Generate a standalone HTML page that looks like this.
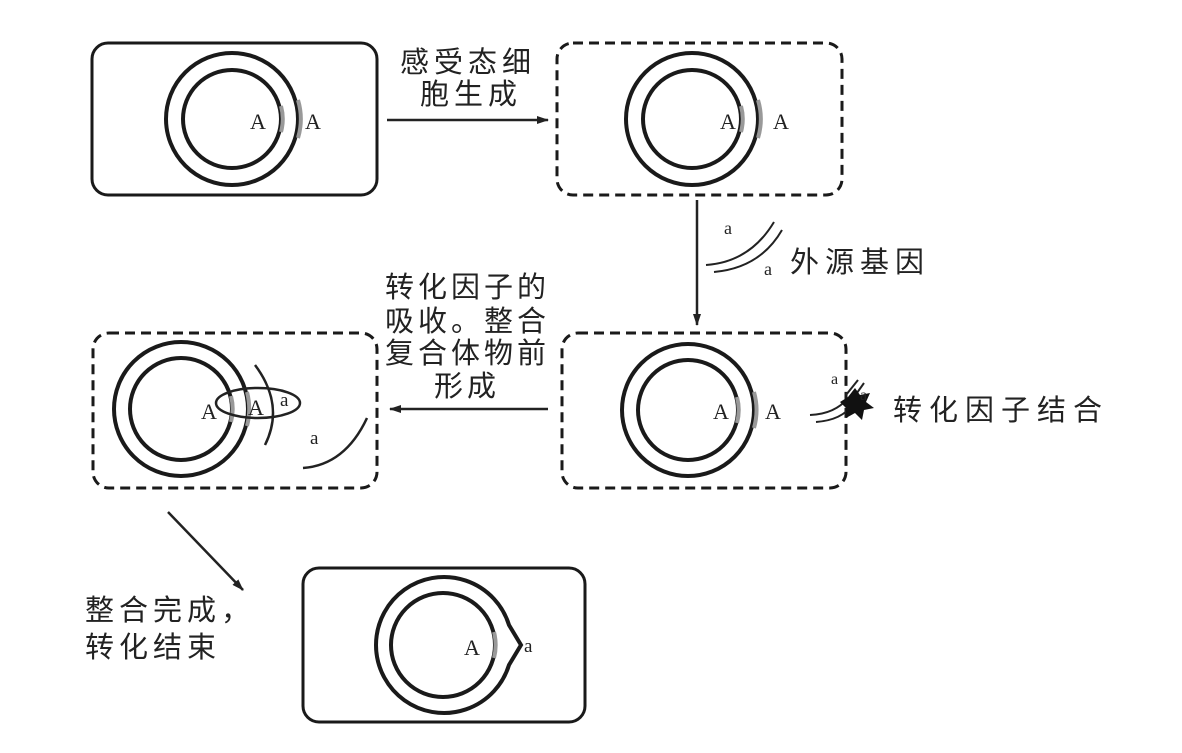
<!DOCTYPE html>
<html><head><meta charset="utf-8"><style>
html,body{margin:0;padding:0;background:#fff;}
svg{display:block;}
text{font-family:"Liberation Sans","Noto Sans CJK SC",sans-serif;fill:#222;}
.s{font-family:"Liberation Serif",serif;}
</style></head><body>
<svg width="1182" height="753" viewBox="0 0 1182 753">
<defs><marker id="ar" markerWidth="12" markerHeight="8" refX="11" refY="4" orient="auto" markerUnits="userSpaceOnUse"><path d="M0,0 L12,4 L0,8 Z" fill="#222"/></marker></defs>
<g fill="none" stroke="#1a1a1a" stroke-width="3">
<rect x="92" y="43" width="285" height="152" rx="16"/>
<rect x="557" y="43" width="285" height="152" rx="16" stroke-dasharray="10,6"/>
<rect x="562" y="333" width="284" height="155" rx="16" stroke-dasharray="10,6"/>
<rect x="93" y="333" width="284" height="155" rx="16" stroke-dasharray="10,6"/>
<rect x="303" y="568" width="282" height="154" rx="16"/>
<circle cx="232" cy="119" r="66" stroke-width="4"/><circle cx="232" cy="119" r="49" stroke-width="4"/>
<circle cx="692" cy="119" r="66" stroke-width="4"/><circle cx="692" cy="119" r="49" stroke-width="4"/>
<circle cx="688" cy="410" r="66" stroke-width="4"/><circle cx="688" cy="410" r="50" stroke-width="4"/>
<circle cx="181" cy="409" r="67" stroke-width="4"/><circle cx="181" cy="409" r="51" stroke-width="4"/>
<circle cx="443" cy="645" r="52" stroke-width="4"/>
<path d="M509,625 A68,68 0 1 0 509,665 L521,645 Z" stroke-width="4"/>
</g>
<g stroke="#999" stroke-width="4" fill="none">
<path d="M281,106 A49,49 0 0 1 281,132"/><path d="M298,100 A66,66 0 0 1 298,138"/>
<path d="M741,106 A49,49 0 0 1 741,132"/><path d="M758,100 A66,66 0 0 1 758,138"/>
<path d="M737,397 A50,50 0 0 1 737,423"/><path d="M754,392 A66,66 0 0 1 754,428"/>
<path d="M231,396 A51,51 0 0 1 231,422"/><path d="M247,392 A67,67 0 0 1 247,426"/>
<path d="M494,632 A52,52 0 0 1 494,658"/>
</g>
<g stroke="#222" stroke-width="2.5" fill="none">
<line x1="387" y1="120" x2="548" y2="120" marker-end="url(#ar)"/>
<line x1="697" y1="200" x2="697" y2="325" marker-end="url(#ar)"/>
<line x1="548" y1="409" x2="390" y2="409" marker-end="url(#ar)"/>
<line x1="168" y1="512" x2="243" y2="590" marker-end="url(#ar)"/>
</g>
<g stroke="#222" stroke-width="2" fill="none">
<path d="M706,265 Q750,262 774,222"/><path d="M714,272 Q760,268 782,230"/>
<path d="M810,415 Q835,414 848,398"/><path d="M816,422 Q842,420 852,405"/>
<path d="M846,395 L858,380"/><path d="M852,400 L864,383"/>
<ellipse cx="258" cy="403" rx="42" ry="15" stroke-width="2.5"/>
<path d="M255,365 Q285,405 265,445" stroke-width="2.5"/>
<path d="M303,468 Q345,465 367,418" stroke-width="2.5"/>
</g>
<polygon points="855,388 860,395 870,393 866,402 874,408 864,410 862,420 855,413 846,418 846,408 840,402 848,397" fill="#111"/>
<g class="s" font-size="22">
<text x="250" y="129" class="s">A</text><text x="305" y="129" class="s">A</text>
<text x="720" y="129" class="s">A</text><text x="773" y="129" class="s">A</text>
<text x="713" y="419" class="s">A</text><text x="765" y="419" class="s">A</text>
<text x="201" y="419" class="s">A</text><text x="248" y="415" class="s">A</text>
<text x="280" y="406" class="s" font-size="19">a</text>
<text x="310" y="444" class="s" font-size="19">a</text>
<text x="464" y="655" class="s">A</text><text x="524" y="652" class="s" font-size="19">a</text>
<text x="724" y="234" class="s" font-size="18">a</text><text x="764" y="275" class="s" font-size="18">a</text>
<text x="831" y="384" class="s" font-size="16">a</text><text x="860" y="400" class="s" font-size="16">a</text>
</g>
<g font-size="29" letter-spacing="5">
<text x="400" y="72">感受态细</text>
<text x="420" y="104">胞生成</text>
<text x="790" y="272" letter-spacing="6">外源基因</text>
<text x="893" y="420" letter-spacing="7">转化因子结合</text>
<text x="385" y="297" letter-spacing="4">转化因子的</text>
<text x="385" y="331" letter-spacing="4">吸收。整合</text>
<text x="385" y="363" letter-spacing="4">复合体物前</text>
<text x="434" y="396" letter-spacing="4">形成</text>
<text x="85" y="620">整合完成，</text>
<text x="85" y="657">转化结束</text>
</g>
</svg>
</body></html>
